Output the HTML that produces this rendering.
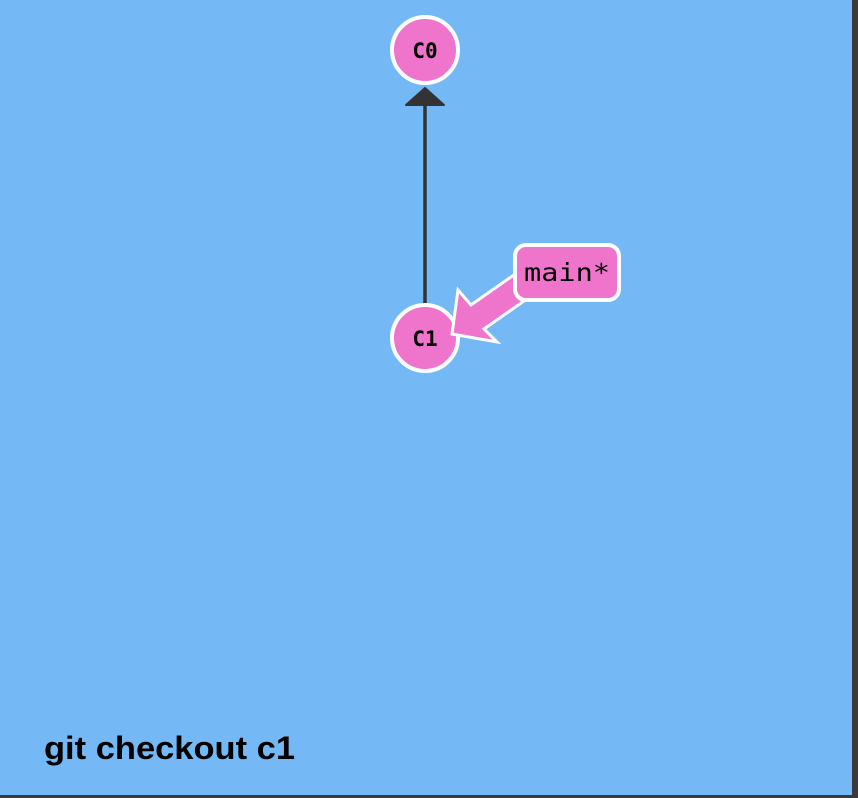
<!DOCTYPE html>
<html><head><style>
html,body{margin:0;padding:0;width:858px;height:798px;overflow:hidden;background:#333}
</style></head><body>
<svg width="858" height="798" xmlns="http://www.w3.org/2000/svg">
<rect x="0" y="0" width="858" height="798" fill="#3a3a3a"/>
<rect x="0" y="0" width="852" height="795" fill="#74b9f5"/>
<line x1="425" y1="104" x2="425" y2="304" stroke="#333" stroke-width="3.5"/>
<polygon points="425,88 444,105 406,105" fill="#333" stroke="#333" stroke-width="2" stroke-linejoin="round"/>
<circle cx="425" cy="50" r="33" fill="#ef74cb" stroke="#fff" stroke-width="4"/>
<circle cx="425" cy="338" r="33" fill="#ef74cb" stroke="#fff" stroke-width="4"/>
<text x="425" y="58" text-anchor="middle" font-family="DejaVu Sans Mono, monospace" font-weight="bold" font-size="21">C0</text>
<text x="425" y="346" text-anchor="middle" font-family="DejaVu Sans Mono, monospace" font-weight="bold" font-size="21">C1</text>
<polygon points="518,272 471,305 458,290 452,334 497,342 484,329 531,296" fill="#ef74cb" stroke="#fff" stroke-width="3"/>
<rect x="515" y="245" width="104" height="55" rx="11" fill="#ef74cb" stroke="#fff" stroke-width="4"/>
<text x="567" y="281" text-anchor="middle" font-family="DejaVu Sans Mono, monospace" font-size="25" textLength="86" lengthAdjust="spacingAndGlyphs">main*</text>
<text x="44" y="759" font-family="Liberation Sans, Arial, sans-serif" font-weight="bold" font-size="32" textLength="251" lengthAdjust="spacingAndGlyphs">git checkout c1</text>
</svg>
</body></html>
